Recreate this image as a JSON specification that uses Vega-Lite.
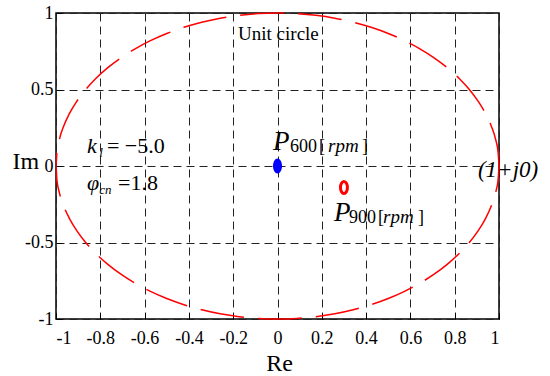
{
  "$schema": "https://vega.github.io/schema/vega-lite/v6.json",
  "width": 443,
  "height": 306,
  "autosize": {"type": "none"},
  "padding": {"left": 56, "top": 13, "right": 51, "bottom": 57},
  "background": "white",
  "config": {
    "font": "Liberation Serif",
    "view": {"stroke": "#000", "strokeWidth": 1.5},
    "text": {"font": "Liberation Serif"},
    "axis": {
      "domain": false,
      "grid": true,
      "gridDash": [8, 5],
      "gridColor": "#222",
      "gridWidth": 1,
      "labelFont": "Liberation Serif",
      "labelFontSize": 18,
      "labelColor": "#000",
      "ticks": true,
      "tickColor": "#000",
      "tickSize": -6,
      "titleFont": "Liberation Serif",
      "titleFontSize": 24,
      "titleFontWeight": "normal",
      "titleColor": "#000"
    }
  },
  "encoding": {
    "x": {
      "field": "x", "type": "quantitative",
      "scale": {"domain": [-1, 1], "nice": false, "zero": false},
      "axis": {
        "values": [-1, -0.8, -0.6, -0.4, -0.2, 0, 0.2, 0.4, 0.6, 0.8, 1],
        "labelExpr": "datum.value < 0 ? '-' + format(-datum.value, '') : format(datum.value, '')",
        "labelPadding": 16,
        "title": "Re",
        "titleX": 223, "titleY": 51,
        "titleAlign": "center", "titleBaseline": "alphabetic"
      }
    },
    "y": {
      "field": "y", "type": "quantitative",
      "scale": {"domain": [-1, 1], "nice": false, "zero": false},
      "axis": {
        "values": [-1, -0.5, 0, 0.5, 1],
        "labelExpr": "datum.value < 0 ? '-' + format(-datum.value, '') : format(datum.value, '')",
        "labelPadding": 9,
        "title": "Im",
        "titleAngle": 0,
        "titleX": -44, "titleY": 155,
        "titleAlign": "left", "titleBaseline": "alphabetic"
      }
    }
  },
  "layer": [
    {
      "data": {"values": [
        {"i":0,"x":1,"y":0},{"i":1,"x":0.9962,"y":0.0872},{"i":2,"x":0.9848,"y":0.1736},{"i":3,"x":0.9659,"y":0.2588},
        {"i":4,"x":0.9397,"y":0.342},{"i":5,"x":0.9063,"y":0.4226},{"i":6,"x":0.866,"y":0.5},{"i":7,"x":0.8192,"y":0.5736},
        {"i":8,"x":0.766,"y":0.6428},{"i":9,"x":0.7071,"y":0.7071},{"i":10,"x":0.6428,"y":0.766},{"i":11,"x":0.5736,"y":0.8192},
        {"i":12,"x":0.5,"y":0.866},{"i":13,"x":0.4226,"y":0.9063},{"i":14,"x":0.342,"y":0.9397},{"i":15,"x":0.2588,"y":0.9659},
        {"i":16,"x":0.1736,"y":0.9848},{"i":17,"x":0.0872,"y":0.9962},{"i":18,"x":0,"y":1},
        {"i":19,"x":-0.0872,"y":0.9962},{"i":20,"x":-0.1736,"y":0.9848},{"i":21,"x":-0.2588,"y":0.9659},{"i":22,"x":-0.342,"y":0.9397},
        {"i":23,"x":-0.4226,"y":0.9063},{"i":24,"x":-0.5,"y":0.866},{"i":25,"x":-0.5736,"y":0.8192},{"i":26,"x":-0.6428,"y":0.766},
        {"i":27,"x":-0.7071,"y":0.7071},{"i":28,"x":-0.766,"y":0.6428},{"i":29,"x":-0.8192,"y":0.5736},{"i":30,"x":-0.866,"y":0.5},
        {"i":31,"x":-0.9063,"y":0.4226},{"i":32,"x":-0.9397,"y":0.342},{"i":33,"x":-0.9659,"y":0.2588},{"i":34,"x":-0.9848,"y":0.1736},
        {"i":35,"x":-0.9962,"y":0.0872},{"i":36,"x":-1,"y":0},
        {"i":37,"x":-0.9962,"y":-0.0872},{"i":38,"x":-0.9848,"y":-0.1736},{"i":39,"x":-0.9659,"y":-0.2588},{"i":40,"x":-0.9397,"y":-0.342},
        {"i":41,"x":-0.9063,"y":-0.4226},{"i":42,"x":-0.866,"y":-0.5},{"i":43,"x":-0.8192,"y":-0.5736},{"i":44,"x":-0.766,"y":-0.6428},
        {"i":45,"x":-0.7071,"y":-0.7071},{"i":46,"x":-0.6428,"y":-0.766},{"i":47,"x":-0.5736,"y":-0.8192},{"i":48,"x":-0.5,"y":-0.866},
        {"i":49,"x":-0.4226,"y":-0.9063},{"i":50,"x":-0.342,"y":-0.9397},{"i":51,"x":-0.2588,"y":-0.9659},{"i":52,"x":-0.1736,"y":-0.9848},
        {"i":53,"x":-0.0872,"y":-0.9962},{"i":54,"x":0,"y":-1},
        {"i":55,"x":0.0872,"y":-0.9962},{"i":56,"x":0.1736,"y":-0.9848},{"i":57,"x":0.2588,"y":-0.9659},{"i":58,"x":0.342,"y":-0.9397},
        {"i":59,"x":0.4226,"y":-0.9063},{"i":60,"x":0.5,"y":-0.866},{"i":61,"x":0.5736,"y":-0.8192},{"i":62,"x":0.6428,"y":-0.766},
        {"i":63,"x":0.7071,"y":-0.7071},{"i":64,"x":0.766,"y":-0.6428},{"i":65,"x":0.8192,"y":-0.5736},{"i":66,"x":0.866,"y":-0.5},
        {"i":67,"x":0.9063,"y":-0.4226},{"i":68,"x":0.9397,"y":-0.342},{"i":69,"x":0.9659,"y":-0.2588},{"i":70,"x":0.9848,"y":-0.1736},
        {"i":71,"x":0.9962,"y":-0.0872},{"i":72,"x":1,"y":0}
      ]},
      "mark": {"type": "line", "color": "#ff0000", "strokeWidth": 1.5, "strokeDash": [44, 14], "interpolate": "monotone"},
      "encoding": {"order": {"field": "i", "type": "quantitative"}}
    },
    {
      "data": {"values": [{"x": 0, "y": 0}]},
      "mark": {"type": "point", "shape": "M0,-1A0.6,1 0 1,1 0,1A0.6,1 0 1,1 0,-1Z", "filled": true, "color": "#0000ff", "opacity": 1, "size": 225}
    },
    {
      "data": {"values": [{"x": 0.3, "y": -0.14}]},
      "mark": {"type": "point", "shape": "M0,-1A0.58,1 0 1,1 0,1A0.58,1 0 1,1 0,-1Z", "filled": false, "fill": "#ffffff", "fillOpacity": 1, "stroke": "#ff0000", "strokeWidth": 3, "opacity": 1, "size": 144}
    },
    {
      "data": {"values": [{"x": -0.86, "y": 0.085, "t": "k"}, {"x": -0.86, "y": -0.157, "t": "φ"}]},
      "mark": {"type": "text", "font": "Liberation Serif", "align": "left", "baseline": "alphabetic", "fontSize": 22, "fontStyle": "italic", "color": "#000"},
      "encoding": {"text": {"field": "t"}}
    },
    {
      "data": {"values": [{"x": -0.805, "y": 0.059, "t": "l"}, {"x": -0.805, "y": -0.183, "t": "cn"}]},
      "mark": {"type": "text", "font": "Liberation Serif", "align": "left", "baseline": "alphabetic", "fontSize": 13, "fontStyle": "italic", "color": "#000"},
      "encoding": {"text": {"field": "t"}}
    },
    {
      "data": {"values": [{"x": -0.77, "y": 0.085, "t": "= −5.0"}, {"x": -0.72, "y": -0.157, "t": "=1.8"}]},
      "mark": {"type": "text", "font": "Liberation Serif", "align": "left", "baseline": "alphabetic", "fontSize": 22, "color": "#000"},
      "encoding": {"text": {"field": "t"}}
    },
    {
      "data": {"values": [{"x": -0.0203, "y": 0.1046, "t": "P"}, {"x": 0.2551, "y": -0.3595, "t": "P"}]},
      "mark": {"type": "text", "font": "Liberation Serif", "align": "left", "baseline": "alphabetic", "fontSize": 27, "fontStyle": "italic", "color": "#000"},
      "encoding": {"text": {"field": "t"}}
    },
    {
      "data": {"values": [
        {"x": 0.0564, "y": 0.0915, "t": "600"}, {"x": 0.187, "y": 0.0915, "t": "["}, {"x": 0.3815, "y": 0.0915, "t": "]"},
        {"x": 0.3228, "y": -0.3725, "t": "900"}, {"x": 0.4537, "y": -0.3725, "t": "["}, {"x": 0.6343, "y": -0.3725, "t": "]"}
      ]},
      "mark": {"type": "text", "font": "Liberation Serif", "align": "left", "baseline": "alphabetic", "fontSize": 18, "color": "#000"},
      "encoding": {"text": {"field": "t"}}
    },
    {
      "data": {"values": [{"x": 0.228, "y": 0.0915, "t": "rpm"}, {"x": 0.4763, "y": -0.3725, "t": "rpm"}]},
      "mark": {"type": "text", "font": "Liberation Serif", "align": "left", "baseline": "alphabetic", "fontSize": 19, "fontStyle": "italic", "color": "#000"},
      "encoding": {"text": {"field": "t"}}
    },
    {
      "data": {"values": [{"x": 0.905, "y": -0.072, "t": "(1+j0)"}]},
      "mark": {"type": "text", "font": "Liberation Serif", "align": "left", "baseline": "alphabetic", "fontSize": 23, "fontStyle": "italic", "color": "#000"},
      "encoding": {"text": {"field": "t"}}
    },
    {
      "data": {"values": [{"x": -0.178, "y": 0.8235, "t": "Unit circle"}]},
      "mark": {"type": "text", "font": "Liberation Serif", "align": "left", "baseline": "alphabetic", "fontSize": 19, "color": "#000"},
      "encoding": {"text": {"field": "t"}}
    }
  ]
}
